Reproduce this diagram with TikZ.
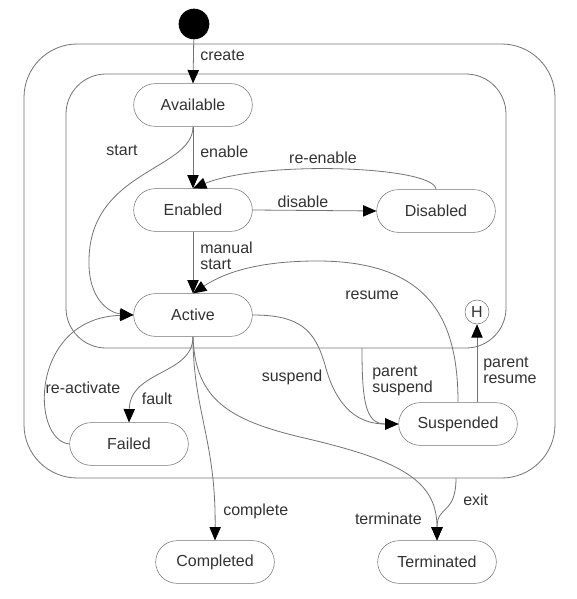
\documentclass[tikz,border=0pt]{standalone}
\usepackage{xcolor}
\usepackage{fontspec}
\setmainfont{Liberation Sans}
\usetikzlibrary{arrows.meta}

\definecolor{linegray}{RGB}{115,115,115}
\definecolor{textgray}{RGB}{50,50,50}

\tikzset{
  state/.style={draw=linegray, rounded corners=16pt, minimum width=89pt, minimum height=32pt,
    inner sep=0pt, text=textgray, font=\fontsize{12}{12}\selectfont},
  lbl/.style={inner sep=0.75pt, text=textgray, align=left, font=\fontsize{12}{12}\selectfont},
  trans/.style={draw=linegray, line width=0.6pt, -{Triangle[length=10pt,width=8.5pt,fill=black,color=black]}},
  region/.style={draw=linegray, line width=0.6pt}
}

\begin{document}
\begin{tikzpicture}[x=0.75pt,y=0.75pt,yscale=-1,xscale=1]
\useasboundingbox (0,0) rectangle (576,599);

%Shape: outer region
\draw [region, rounded corners=40pt] (24,44) rectangle (555,478);
%Shape: inner region
\draw [region, rounded corners=30pt] (66,74) rectangle (506,348);
\coordinate (psus) at (362,348);
\coordinate (exitpt) at (456,478);

%States
\node [circle, fill=black, minimum size=23pt, inner sep=0pt] (init) at (194,24) {};
\node [state] (avail) at (193,105) {Available};
\node [state] (enabled) at (193,210) {Enabled};
\node [state] (disabled) at (436,211) {Disabled};
\node [state] (active) at (193,315) {Active};
\node [circle, draw=linegray, minimum size=18pt, inner sep=0pt, text=textgray, font=\fontsize{12}{12}\selectfont] (hist) at (477,312) {H};
\node [state] (failed) at (129,444) {Failed};
\node [state] (susp) at (458,424) {Suspended};
\node [state] (compl) at (215,562) {Completed};
\node [state] (term) at (437,562) {Terminated};

%Transitions
\draw [trans] (init) -- (avail.north);
\draw [trans] (avail.south) -- (enabled.north);
\draw [trans] (avail.south) .. controls (193,170) and (90,170) .. (89,260) .. controls (88,300) and (110,313) .. (active.west);
\draw [trans] (enabled.east) -- (disabled.west);
\draw [trans] (disabled.north) .. controls (435,166) and (262,160) .. (enabled.north);
\draw [trans] (enabled.south) -- (active.north);
\draw [trans] (susp.north) .. controls (458,320) and (430,261) .. (317,261) .. controls (260,261) and (225,272) .. (active.north);
\draw [trans] (active.east) .. controls (300,315) and (315,330) .. (325,365) .. controls (337,410) and (360,424) .. (susp.west);
\draw [trans] (psus) .. controls (362,400) and (365,424) .. (susp.west);
\draw [trans] (hist.south |- susp.north) -- (hist.south);
\draw [trans] (active.south) .. controls (193,375) and (130,370) .. (failed.north);
\draw [trans] (failed.west) .. controls (30,440) and (30,318) .. (active.west);
\draw [trans] (active.south) .. controls (193,410) and (216,440) .. (compl.north);
\draw [trans] (active.south) .. controls (195,400) and (230,420) .. (300,437) .. controls (400,460) and (437,480) .. (term.north);
\draw [trans] (exitpt) .. controls (456,515) and (437,505) .. (term.north);

% Text Node
\node [lbl, anchor=west] (tcreate) at (199,55) {create};
% Text Node
\node [lbl, anchor=west] (tenable) at (199,152) {enable};
% Text Node
\node [lbl] (tstart) at (122,150) {start};
% Text Node
\node [lbl] (tdisable) at (303,202) {disable};
% Text Node
\node [lbl] (treenable) at (323,158) {re-enable};
% Text Node
\node [lbl, anchor=west] (tmanual) at (199,256) {manual\\start};
% Text Node
\node [lbl] (tresume) at (372,295) {resume};
% Text Node
\node [lbl] (tsuspend) at (292,377) {suspend};
% Text Node
\node [lbl, anchor=west] (tpsuspend) at (371,381) {parent\\suspend};
% Text Node
\node [lbl, anchor=west] (tpresume) at (482,370) {parent\\resume};
% Text Node
\node [lbl] (tfault) at (157,399) {fault};
% Text Node
\node [lbl] (treactivate) at (83,388) {re-activate};
% Text Node
\node [lbl, anchor=west] (tcomplete) at (222,511) {complete};
% Text Node
\node [lbl, anchor=east] (tterminate) at (423,519) {terminate};
% Text Node
\node [lbl, anchor=west] (texit) at (462,500) {exit};

\end{tikzpicture}
\end{document}
